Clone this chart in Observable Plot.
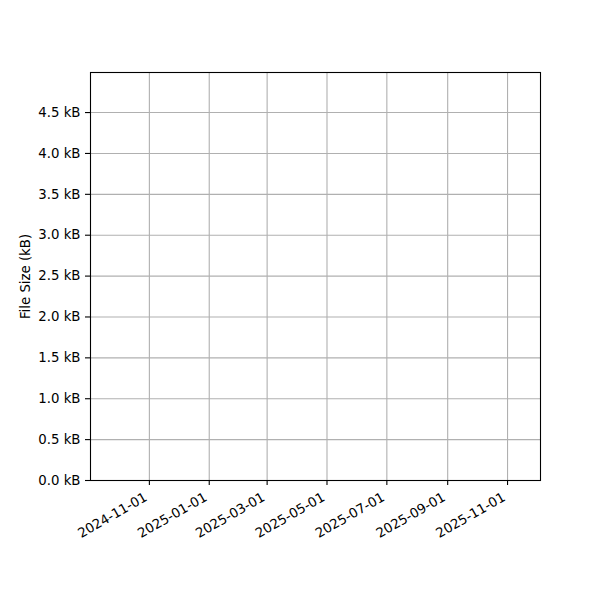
<!DOCTYPE html>
<html>
<head>
<meta charset="utf-8">
<script src="https://cdn.jsdelivr.net/npm/d3@7"></script>
<script src="https://cdn.jsdelivr.net/npm/@observablehq/plot@0.6"></script>
<style>
  html, body { margin: 0; padding: 0; background: #fff; }
  #chart { width: 600px; height: 600px; }
</style>
</head>
<body>
<div id="chart"></div>
<script>
// Data: the reference chart contains no data points (empty series).
const dates = [];
const sizesKB = [];

// Axis domain and tick labels
const xDomain = ["2024-09-02T00:00:00Z", "2025-12-04T14:00:00Z"];
const yDomain = [0, 4.99];
const xTickLabels = ["2024-11-01", "2025-01-01", "2025-03-01", "2025-05-01", "2025-07-01", "2025-09-01", "2025-11-01"];
const yTickValues = [0, 0.5, 1.0, 1.5, 2.0, 2.5, 3.0, 3.5, 4.0, 4.5];
const yLabel = "File Size (kB)";

const xTicks = xTickLabels.map(s => new Date(s + "T00:00:00Z"));
const data = dates.map((d, i) => ({date: new Date(d), size: sizesKB[i]}));

const font = "DejaVu Sans, sans-serif";
const fs = 13.3;

const chart = Plot.plot({
  width: 600,
  height: 600,
  marginLeft: 90,
  marginRight: 60,
  marginTop: 72,
  marginBottom: 120,
  style: {fontFamily: font, fontSize: fs + "px", color: "#000", background: "#fff"},
  x: {type: "utc", domain: xDomain.map(s => new Date(s))},
  y: {domain: yDomain},
  marks: [
    Plot.gridX(xTicks, {stroke: "#b0b0b0", strokeOpacity: 1, strokeWidth: 1.1}),
    Plot.gridY(yTickValues, {stroke: "#b0b0b0", strokeOpacity: 1, strokeWidth: 1.1}),
    Plot.line(data, {x: "date", y: "size", stroke: "#1f77b4"}),
    Plot.axisY(yTickValues, {
      tickSize: 5, tickPadding: 5, stroke: "#000", strokeWidth: 1.1,
      tickFormat: d => d.toFixed(1) + " kB", label: null, fontSize: fs, fill: "#000"
    }),
    Plot.axisX(xTicks, {tickSize: 5, tickFormat: () => "", label: null, stroke: "#000", strokeWidth: 1.1}),
    Plot.text(xTicks, {
      x: d => d, frameAnchor: "bottom", text: d => d3.utcFormat("%Y-%m-%d")(d),
      rotate: -30, textAnchor: "end", lineAnchor: "top", dx: -6, dy: 11,
      fontSize: fs, fill: "#000"
    }),
    Plot.text([yLabel], {
      frameAnchor: "left", textAnchor: "middle", lineAnchor: "middle",
      dx: -65, rotate: -90, text: d => d, fontSize: fs, fill: "#000"
    }),
    Plot.frame({stroke: "#000", strokeWidth: 1.1})
  ]
});
document.getElementById("chart").appendChild(chart);
</script>
</body>
</html>
